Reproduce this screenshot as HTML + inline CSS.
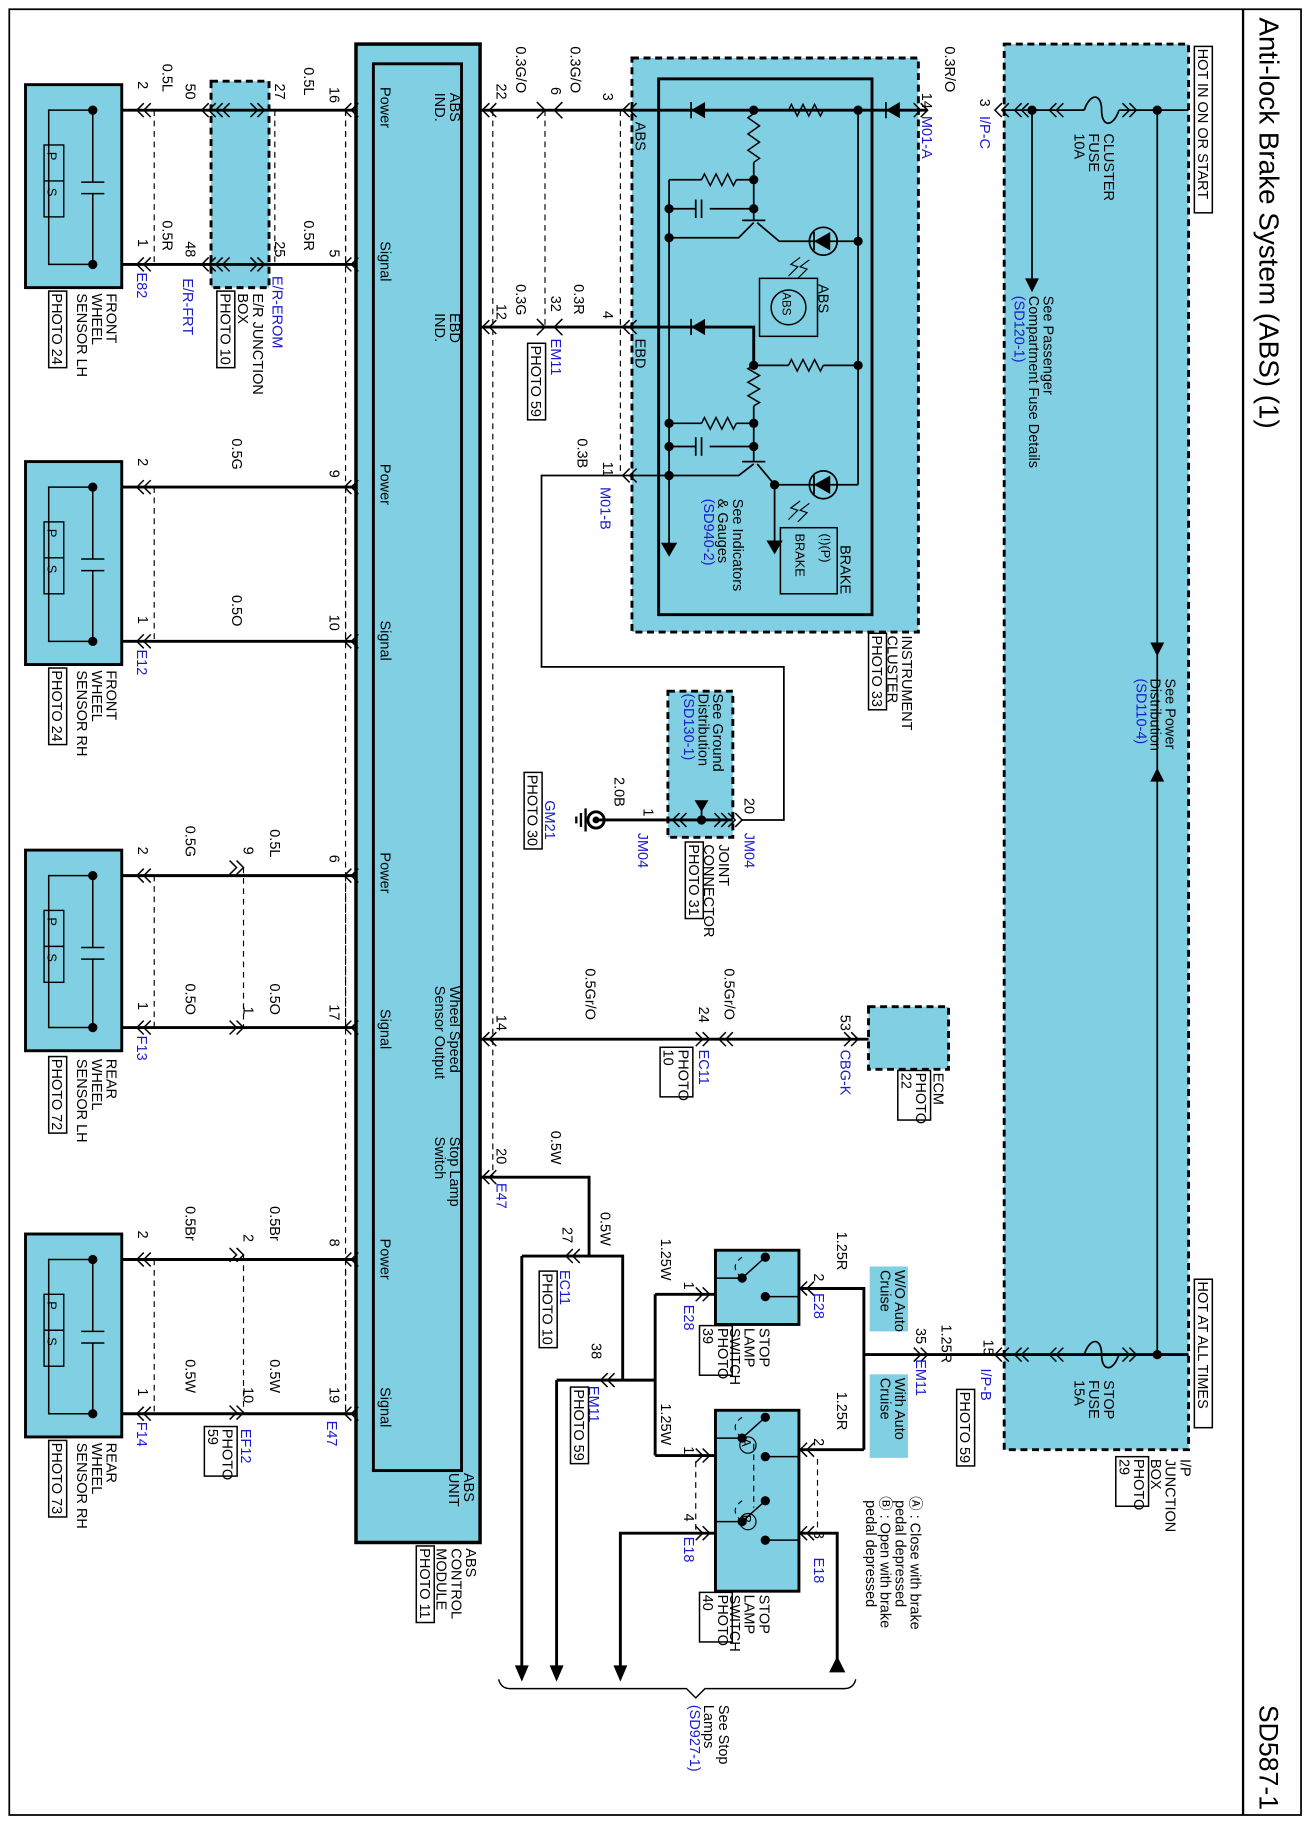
<!DOCTYPE html>
<html><head><meta charset="utf-8"><style>
html,body{margin:0;padding:0;background:#fff;width:1308px;height:1822px;overflow:hidden}
svg{display:block}
text{font-family:"Liberation Sans",sans-serif;}
</style></head><body>
<svg id="s" width="1308" height="1822" viewBox="0 0 1128 1571" preserveAspectRatio="none" xmlns="http://www.w3.org/2000/svg"></svg>
<script>
var o=[];var C='#80cfe2',B='#1a1acc';
function R(x,y,w,h,f,d,sw){o.push('<rect x="'+x+'" y="'+y+'" width="'+w+'" height="'+h+'" fill="'+(f||'none')+'" stroke="#000" stroke-width="'+(sw||2.5)+'"'+(d?' stroke-dasharray="6,4"':'')+'/>');}
function F(x,y,w,h){o.push('<rect x="'+x+'" y="'+y+'" width="'+w+'" height="'+h+'" fill="'+C+'"/>');}
function P(d,w,da){o.push('<path d="'+d+'" fill="none" stroke="#000" stroke-width="'+(w||2.5)+'"'+(da?' stroke-dasharray="5,4"':'')+'/>');}
function D(x,y,r){o.push('<circle cx="'+x+'" cy="'+y+'" r="'+(r||4)+'" fill="#000"/>');}
function TR(p){o.push('<path d="'+p+'" fill="#000"/>');}
function T(x,y,s,sz,c,box){var ls=s.split('|');sz=sz||12.5;var g='<text transform="translate('+x+','+y+') rotate(90)" font-size="'+sz+'" fill="'+(c||'#000')+'">';ls.forEach(function(l,i){g+='<tspan x="0" dy="'+(i?sz*1.02:0)+'">'+l+'</tspan>';});g+='</text>';o.push(g);
 if(box){var n=ls.length,mx=0;ls.forEach(function(l){mx=Math.max(mx,l.length)});o.push('<rect x="'+(x-(n-1)*sz*1.02-3)+'" y="'+(y-2)+'" width="'+((n-1)*sz*1.02+sz+3)+'" height="'+(mx*sz*0.62+4)+'" fill="none" stroke="#000" stroke-width="1.3"/>');}}
function K(x,y,r){var s=r?-1:1;P('M'+(x+6*s)+','+(y-6)+' L'+x+','+y+' L'+(x+6*s)+','+(y+6),1.3);P('M'+(x+12*s)+','+(y-6)+' L'+(x+6*s)+','+y+' L'+(x+12*s)+','+(y+6),1.3);}
function K1(x,y,r){var s=r?-1:1;P('M'+(x+7*s)+','+(y-7)+' L'+x+','+y+' L'+(x+7*s)+','+(y+7),1.3);}
P('M8,8 H1122 V1565 H8 Z',1.5);P('M1072,8 V1565',2);
T(1086,15,'Anti-lock Brake System (ABS) (1)',24);T(1086,1470,'SD587-1',23);
F(866,38,159,1212);R(866,38,159,1212,null,1,2.5);
F(545,50,247,495);R(545,50,247,495,null,1,2.5);R(568,68,184,462,null,0,2.5);
F(576,596,56,126);R(576,596,56,126,null,1,2.5);
F(749,868,69,54);R(749,868,69,54,null,1,2.5);
F(182,70,50,178);R(182,70,50,178,null,1,2.5);
R(307,38,107,1292,C,0,3);R(322,55,76,1213,null,0,2.5);
[[73,'FRONT|WHEEL|SENSOR LH|PHOTO 24','E82'],[398,'FRONT|WHEEL|SENSOR RH|PHOTO 24','E12'],[733,'REAR|WHEEL|SENSOR LH|PHOTO 72','F13'],[1064,'REAR|WHEEL|SENSOR RH|PHOTO 73','F14']].forEach(function(a){var y=a[0],h=a[0]==733?173:175;R(22,y,83,h,C,0,2.5);var y1=y+22,y2=y+h-20;
P('M80,'+y1+' V'+(y1+62)+' M70,'+(y1+62)+' H90 M70,'+(y1+72)+' H90 M80,'+(y1+72)+' V'+y2,1.3);P('M80,'+y1+' H42 V'+y2+' H80',1.3);D(80,y1);D(80,y2);
o.push('<rect x="38" y="'+(y1+30)+'" width="17" height="62" fill="none" stroke="#000" stroke-width="1.2"/>');P('M38,'+(y1+61)+' H55',1.2);T(41,y1+36,'P',11);T(41,y1+67,'S',11);
P('M105,'+y1+' H307 M105,'+y2+' H307');K(118,y1);K(118,y2);K(297,y1);K(297,y2);P('M133,'+y1+' V'+y2,1,1);P('M298,'+y1+' V'+y2,1,1);
T(119,y1-25,'2');T(119,y2-22,'1');T(118,y2+7,a[2],12.5,B);
var L=a[1].split('|');T(92,y+180,L[0]+'|'+L[1]+'|'+L[2]);T(45,y+180,L[3],12.5,'#000',1);});
K(174,95);K(174,228);K(186,95);K(186,228);K(228,95,1);K(228,228,1);P('M237,95 V228',1,1);
T(140,55,'0.5L');T(140,190,'0.5R');T(160,72,'50');T(160,208,'48');T(237,72,'27');T(237,208,'25');T(262,58,'0.5L');T(262,190,'0.5R');T(284,75,'16');T(284,215,'5');
T(158,240,'E/R-FRT',12.5,B);T(235,238,'E/R-EROM',12.5,B);T(218,253,'E/R JUNCTION|BOX');T(190,253,'PHOTO 10',12.5,'#000',1);
T(284,405,'9');T(200,378,'0.5G');T(284,530,'10');T(200,513,'0.5O');
K(210,748,1);K(210,886,1);P('M210,748 V886',1,1);T(160,712,'0.5G');T(210,730,'9');T(233,715,'0.5L');T(284,737,'6');T(160,848,'0.5O');T(210,868,'1');T(233,848,'0.5O');T(284,866,'17');
K(210,1082,1);K(210,1218,1);P('M210,1082 V1218',1,1);T(160,1040,'0.5Br');T(210,1064,'2');T(233,1040,'0.5Br');T(284,1068,'8');T(160,1172,'0.5W');T(210,1196,'10');T(233,1172,'0.5W');T(284,1196,'19');
T(208,1232,'EF12',12.5,B);T(192,1232,'PHOTO|59',12.5,'#000',1);T(282,1225,'E47',12.5,B);
P('M298,95 V1220',1,1);P('M425,95 V1015',1,1);P('M470,95 V282',1,1);P('M535,95 V410',1,1);
T(328,75,'Power');T(388,80,'ABS|IND.');T(328,208,'Signal');T(388,270,'EBD|IND.');T(328,400,'Power');T(328,535,'Signal');T(328,735,'Power');T(388,850,'Wheel Speed|Sensor Output');T(328,870,'Signal');T(388,980,'Stop Lamp|Switch');T(328,1068,'Power');T(328,1196,'Signal');T(400,1270,'ABS|UNIT');T(402,1335,'ABS|CONTROL|MODULE');T(362,1335,'PHOTO 11',12.5,'#000',1);
P('M414,95 H800');P('M414,282 H650 V315');K(416,95);K(416,282);K(416,896);K(416,1015);
K1(470,95,1);K1(478,95);K1(470,282,1);K1(478,282);K(537,95);K(537,282);K(537,410);
T(428,72,'22');T(445,40,'0.3G/O');T(475,75,'6');T(492,40,'0.3G/O');T(520,80,'3');
T(428,262,'12');T(445,245,'0.3G');T(475,255,'32');T(495,245,'0.3R');T(520,268,'4');T(475,292,'EM11',12.5,B);T(458,298,'PHOTO 59',12.5,'#000',1);
T(520,398,'11');T(498,378,'0.3B');T(518,420,'M01-B',12.5,B);T(548,105,'ABS');T(548,292,'EBD');
function res(x1,y,x2){var d='M'+x1+','+y,n=6,st=(x2-x1)/n;for(var i=0;i<n;i++){d+=' L'+(x1+st*(i+0.5))+','+(y+(i%2?5:-5));}d+=' L'+x2+','+y;P(d,1.3);}
function resv(x,y1,y2){var d='M'+x+','+y1,n=6,st=(y2-y1)/n;for(var i=0;i<n;i++){d+=' L'+(x+(i%2?5:-5))+','+(y1+st*(i+0.5));}d+=' L'+x+','+y2;P(d,1.3);}
P('M545,95 H680 M710,95 H792',1.5);res(680,95,710);TR('M596,95 L608,88 L608,102 Z');P('M596,88 V102',1.5);TR('M764,95 L776,88 L776,102 Z');P('M764,88 V102',1.5);
D(650,95);D(740,95);P('M740,95 V418',1.5);resv(650,98,140);P('M650,140 V190',1.5);D(650,155);D(650,180);
P('M577,155 H605',1.5);res(605,155,635);P('M635,155 H650',1.5);P('M577,180 H600 M612,180 H650 M600,172 V188 M605,172 V188',1.5);D(577,180);D(577,205);
P('M577,155 V475',1.5);P('M640,190 H660 M650,192 L637,205 H577 M653,192 L672,208 H740',1.5);
o.push('<circle cx="710" cy="208" r="12" fill="none" stroke="#000" stroke-width="1.5"/>');TR('M702,208 L716,200 L716,216 Z');P('M702,200 V216',1.5);D(740,208);
P('M690,222 L682,228 L688,230 L680,238 M698,224 L690,230 L696,232 L688,240',1);
o.push('<rect x="655" y="240" width="50" height="50" fill="none" stroke="#000" stroke-width="1.3"/>');o.push('<circle cx="680" cy="265" r="15" fill="none" stroke="#000" stroke-width="1.3"/>');T(675,252,'ABS',10);T(706,245,'ABS',12.5);
P('M545,282 H596',1.5);TR('M596,282 L608,275 L608,289 Z');P('M596,275 V289 M608,282 H650',1.5);
D(650,315);P('M650,315 H680 M710,315 H740',1.5);res(680,315,710);D(740,315);resv(650,315,350);P('M650,350 V398',1.5);D(650,365);D(650,385);
P('M577,365 H605 M635,365 H650',1.5);res(605,365,635);P('M577,385 H600 M612,385 H650 M600,377 V393 M605,377 V393',1.5);D(577,365);D(577,385);D(577,410);
P('M640,398 H660 M650,400 L637,410 H467 V575 H676 V707 H640 M653,400 L668,418 H740',1.5);D(668,418);P('M668,418 V470',1.5);TR('M668,478 L661,466 L675,466 Z');TR('M577,480 L570,468 L584,468 Z');
o.push('<circle cx="710" cy="418" r="12" fill="none" stroke="#000" stroke-width="1.5"/>');TR('M702,418 L716,410 L716,426 Z');P('M702,410 V426',1.5);
P('M690,432 L682,438 L688,440 L680,448 M698,434 L690,440 L696,442 L688,450',1);
o.push('<rect x="673" y="455" width="49" height="57" fill="none" stroke="#000" stroke-width="1.3"/>');T(708,460,'(!)(P)',11);T(686,460,'BRAKE',11);T(725,470,'BRAKE',12.5);
T(632,430,'See Indicators|& Gauges');T(607,430,'(SD940-2)',12.5,B);
T(778,548,'INSTRUMENT|CLUSTER');T(752,548,'PHOTO 33',12.5,'#000',1);
K(800,95,1);K(858,95);T(795,80,'14');T(815,40,'0.3R/O');T(795,100,'M01-A',12.5,B);T(845,85,'3');T(845,100,'I/P-C',12.5,B);
P('M866,95 H935 M965,95 H1025',1.5);P('M935,95 C940,80 950,80 950,95 C950,110 960,110 965,95',1.5);D(890,95);D(998,95);K(875,95);K(905,95);K(980,95,1);
P('M890,95 V240',1.5);TR('M890,252 L884,240 L896,240 Z');P('M998,95 V1168',1.5);TR('M998,566 L992,554 L1004,554 Z');TR('M998,662 L992,674 L1004,674 Z');
T(952,115,'CLUSTER|FUSE|10A');T(900,255,'See Passenger|Compartment Fuse Details');T(875,255,'(SD120-1)',12.5,B);T(1005,585,'See Power|Distribution');T(980,585,'(SD110-4)',12.5,B);
T(1033,42,'HOT IN ON OR START',12.5,'#000',1);T(1033,1105,'HOT AT ALL TIMES',12.5,'#000',1);
P('M866,1168 H935 M965,1168 H1025',1.5);P('M935,1168 C940,1153 950,1153 950,1168 C950,1183 960,1183 965,1168',1.5);D(998,1168);K(875,1168);K(905,1168);K(980,1168,1);
T(952,1190,'STOP|FUSE|15A');T(1018,1258,'I/P|JUNCTION|BOX');T(978,1258,'PHOTO|29',12.5,'#000',1);
P('M512,707 H632');D(605,707);P('M605,707 V695',1.5);TR('M605,700 L599,690 L611,690 Z');K(580,707);K(628,707,1);K(640,707,1);
o.push('<circle cx="514" cy="707" r="7" fill="none" stroke="#000" stroke-width="2.5"/>');D(514,707,3);P('M505,697 V717 M501,701 V713 M497,704 V710',2);
T(615,598,'See Ground|Distribution');T(590,598,'(SD130-1)',12.5,B);T(642,688,'20');T(642,718,'JM04',12.5,B);T(555,697,'1');T(550,718,'JM04',12.5,B);T(530,670,'2.0B');T(620,728,'JOINT|CONNECTOR');T(594,728,'PHOTO 31',12.5,'#000',1);T(470,690,'GM21',12.5,B);T(455,668,'PHOTO 30',12.5,'#000',1);
P('M414,896 H749');K(612,896,1);K(620,896);K(740,896,1);T(428,875,'14');T(505,835,'0.5Gr/O');T(603,868,'24');T(625,835,'0.5Gr/O');T(725,875,'53');T(603,905,'EC11',12.5,B);T(585,905,'PHOTO|10',12.5,'#000',1);T(725,905,'CBG-K',12.5,B);T(805,925,'ECM');T(790,925,'PHOTO|22',12.5,'#000',1);
P('M414,1015 H508 V1083 M450,1083 H537 V1190 M480,1190 H565 M565,1116 V1255 M565,1116 H617 M565,1255 H617');P('M450,1083 V1440 M480,1190 V1440 M617,1322 H535 V1440');
TR('M450,1450 L444,1436 L456,1436 Z');TR('M480,1450 L474,1436 L486,1436 Z');TR('M535,1450 L529,1436 L541,1436 Z');
P('M689,1322 H722 V1440');TR('M722,1428 L715,1442 L729,1442 Z');
K(488,1083);K(518,1190);K(612,1116,1);K(612,1255,1);K(612,1322,1);K(690,1111);K(690,1250);K(690,1322);
P('M430,1448 Q432,1456 440,1456 H592 L600,1464 L608,1456 H728 Q736,1456 738,1448',1.2);T(620,1470,'See Stop|Lamps');T(595,1470,'(SD927-1)',12.5,B);
T(428,990,'20');T(428,1020,'E47',12.5,B);T(475,975,'0.5W');T(485,1058,'27');T(483,1095,'EC11',12.5,B);T(468,1098,'PHOTO 10',12.5,'#000',1);T(518,1045,'0.5W');T(510,1158,'38');T(508,1195,'EM11',12.5,B);T(495,1198,'PHOTO 59',12.5,'#000',1);
T(570,1068,'1.25W');T(590,1105,'1');T(590,1125,'E28',12.5,B);T(570,1210,'1.25W');T(590,1247,'1');T(590,1305,'4');T(590,1325,'E18',12.5,B);
R(617,1078,72,64,C,0,2.5);R(617,1216,72,156,C,0,2.5);
function sw(y){D(660,y-14);D(640,y+4);D(660,y+20);P('M660,y0 L640,y1 M640,y1 H617 M660,y2 H689'.replace('y0',y-14).replace(/y1/g,y+4).replace('y2',y+20),1.3);P('M640,'+(y+4)+' Q628,'+(y-6)+' 640,'+(y-14),1,1);}
sw(1098);sw(1236);sw(1308);P('M650,1245 V1300 M600,1260 V1320 M705,1258 V1320',1,1);
T(640,1240,'A',11);o.push('<circle cx="645" cy="1246" r="7" fill="none" stroke="#000"/>');T(640,1306,'B',11);o.push('<circle cx="645" cy="1312" r="7" fill="none" stroke="#000"/>');
P('M689,1111 H745 V1250 M689,1250 H745 M745,1168 H1025');K(800,1168,1);K(858,1168);
F(750,1092,33,56);F(750,1185,33,72);T(772,1095,'W/O Auto|Cruise',12.5);T(772,1188,'With Auto|Cruise',12.5);
T(702,1098,'2');T(702,1115,'E28',12.5,B);T(722,1062,'1.25R');T(790,1145,'35');T(790,1172,'EM11',12.5,B);T(812,1142,'1.25R');T(828,1200,'PHOTO 59',12.5,'#000',1);T(848,1155,'15');T(846,1180,'I/P-B',12.5,B);
T(722,1200,'1.25R');T(702,1240,'2');T(702,1320,'3');T(702,1343,'E18',12.5,B);
T(655,1145,'STOP|LAMP|SWITCH');T(619,1145,'PHOTO|39',12.5,'#000',1);T(655,1375,'STOP|LAMP|SWITCH');T(619,1375,'PHOTO|40',12.5,'#000',1);
T(785,1290,'Ⓐ : Close with brake|   pedal depressed|Ⓑ : Open with brake|   pedal depressed');
document.getElementById('s').innerHTML=o.join('');
</script>
</body></html>
